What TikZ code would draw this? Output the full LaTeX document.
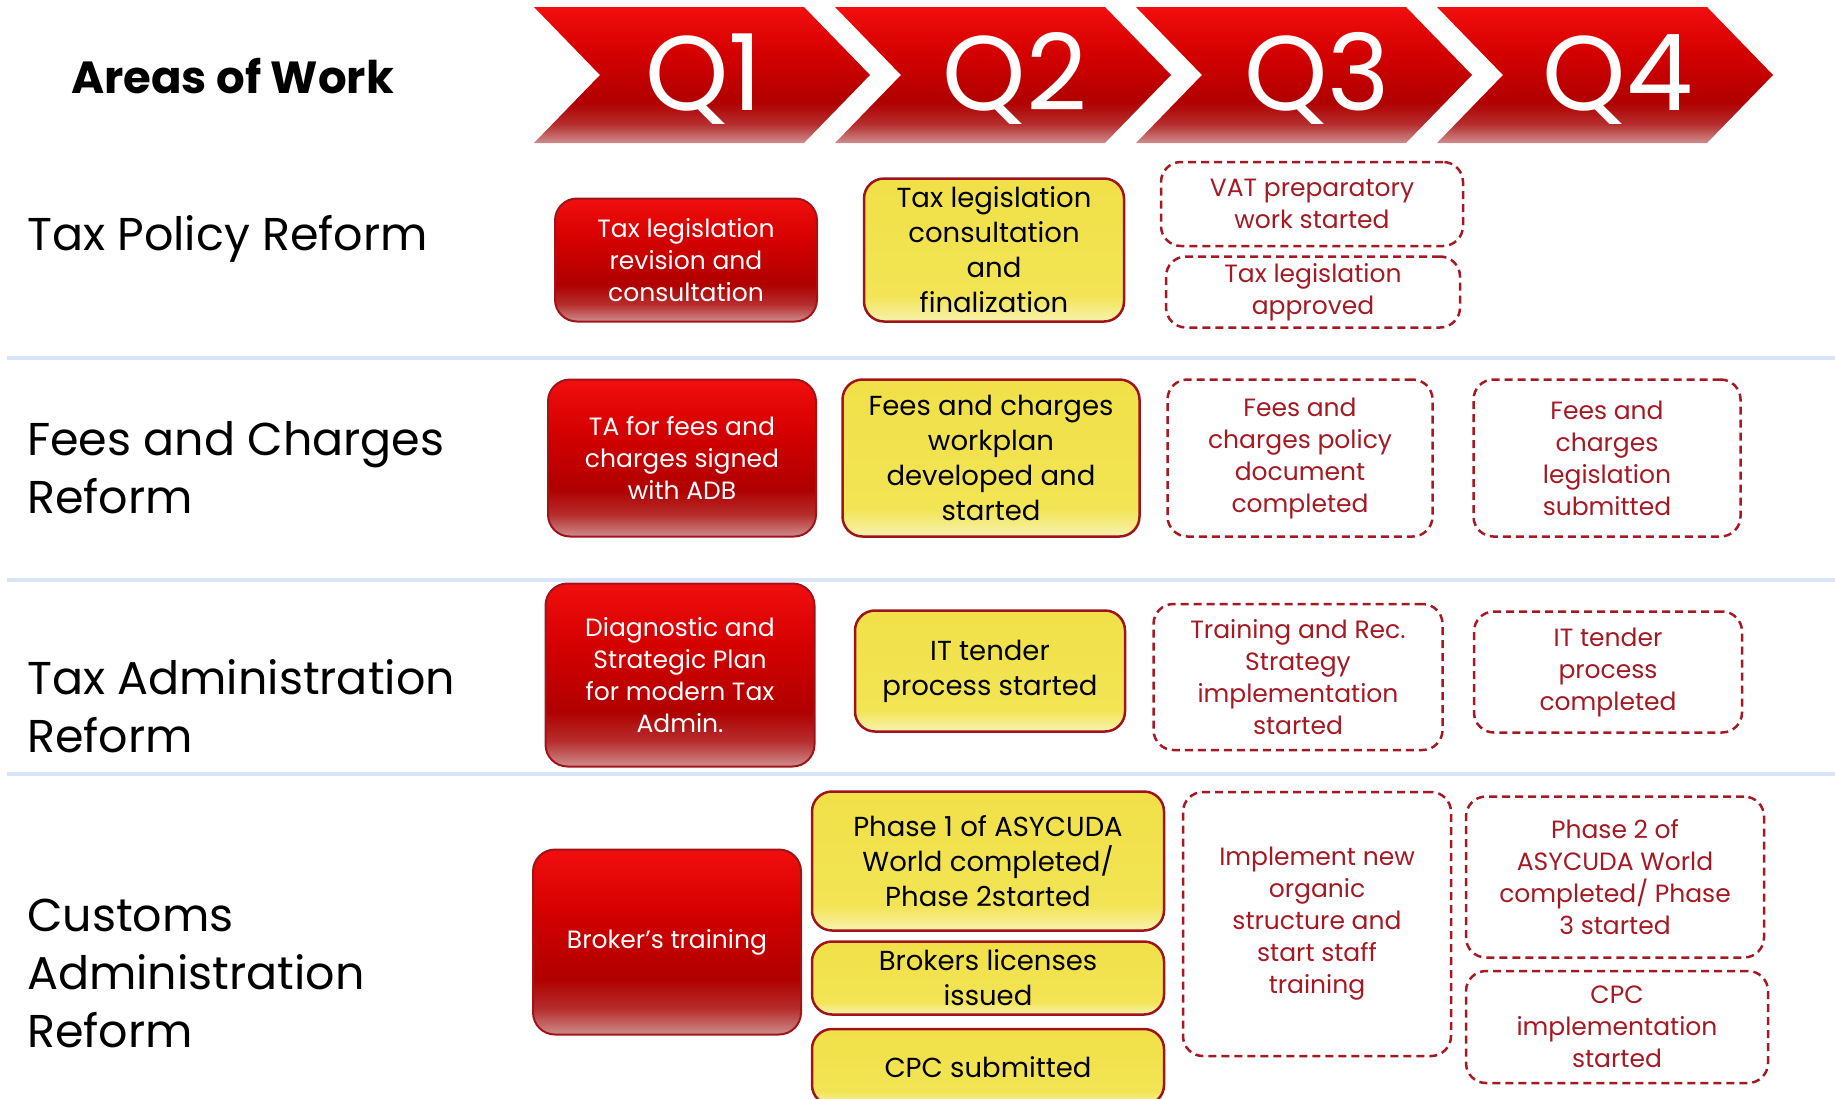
\documentclass[tikz,border=0pt]{standalone}
\usepackage{fontspec}
\setmainfont{Poppins}

\definecolor{rtop}{RGB}{242,14,14}
\definecolor{rmid}{RGB}{212,0,0}
\definecolor{rdark}{RGB}{176,0,0}
\definecolor{rlow}{RGB}{182,45,45}
\definecolor{rbot}{RGB}{206,140,140}
\definecolor{ytop}{RGB}{241,224,72}
\definecolor{ymid}{RGB}{242,228,84}
\definecolor{ybot}{RGB}{248,242,176}
\definecolor{boxline}{RGB}{160,20,25}
\definecolor{dashred}{RGB}{165,25,35}
\definecolor{sepblue}{RGB}{218,228,248}

\pgfdeclareverticalshading{redgloss}{100bp}{color(0bp)=(rbot); color(25bp)=(rbot);
	color(32bp)=(rlow); color(40bp)=(rdark); color(58bp)=(rmid); color(75bp)=(rtop); color(100bp)=(rtop)}
\pgfdeclareverticalshading{yelgloss}{100bp}{color(0bp)=(ybot); color(25bp)=(ybot);
	color(34bp)=(ymid); color(75bp)=(ytop); color(100bp)=(ytop)}

\newcommand\boxfont{\fontsize{25}{32}\selectfont}
\newcommand\yelfont{\fontsize{27.5}{35}\selectfont}
\newcommand\rowfont{\fontsize{46}{58}\selectfont}

\begin{document}
\begin{tikzpicture}[x=1pt,y=-1pt,
		wh/.style 2 args={minimum width=#1pt,minimum height=#2pt},
		redbox/.style={draw=boxline,line width=2pt,rounded corners=22pt,shading=redgloss,
			text=white,align=center,font=\boxfont,inner sep=0pt},
		yelbox/.style={draw=boxline,line width=2.5pt,rounded corners=20pt,shading=yelgloss,
			text=black,align=center,font=\yelfont,inner sep=0pt},
		planbox/.style={draw=dashred,line width=2.5pt,dash pattern=on 8pt off 5pt,rounded corners=20pt,
			text=dashred,align=center,font=\boxfont,inner sep=0pt},
		chevron/.style={shading=redgloss},
		qlabel/.style={text=white,font=\fontsize{106}{110}\selectfont,anchor=base,inner sep=0pt},
		rowlabel/.style={anchor=base west,align=left,font=\rowfont,inner sep=0pt},
		sepline/.style={draw=sepblue,line width=4pt}]
	\useasboundingbox (0,0) rectangle (1835,1098);
	\clip (0,0) rectangle (1835,1098);

	% quarters
	\node[anchor=base west,font=\fontsize{45}{50}\selectfont\bfseries,inner sep=0pt] (areas) at (71,93) {Areas of Work};
	\foreach \q/\cx [count=\i from 0] in {1/704,2/1015,3/1317,4/1618}{
		\shade[chevron] (534+301*\i,7) -- ++(270,0) -- ++(66,68) -- ++(-66,68) -- ++(-270,0) -- ++(66,-68) -- cycle;
		\node[qlabel] (q\q) at (\cx,110) {Q\q};
	}

	\foreach \y in {358,580,774}
		\draw[sepline] (7,\y) -- (1835,\y);

	% areas (base = last line)
	\node[rowlabel] (tpr) at (27,250) {Tax Policy Reform};
	\node[rowlabel] (fcr) at (27,513) {Fees and Charges\\Reform};
	\node[rowlabel] (tar) at (27,752) {Tax Administration\\Reform};
	\node[rowlabel] (car) at (27,1047) {Customs\\Administration\\Reform};

	% tax policy
	\node[redbox,wh={262}{123}] (tp1) at (686,260) {Tax legislation\\revision and\\consultation};
	\node[yelbox,wh={260}{143}] (tp2) at (994,250) {Tax legislation\\consultation\\and\\finalization};
	\node[planbox,wh={302}{84}] (tp3a) at (1312,204) {VAT preparatory\\work started};
	\node[planbox,wh={294}{71}] (tp3b) at (1313,292) {Tax legislation\\approved};

	% fees and charges
	\node[redbox,wh={268}{157}] (fc1) at (682,458) {TA for fees and\\charges signed\\with ADB};
	\node[yelbox,wh={297}{157}] (fc2) at (991,458) {Fees and charges\\workplan\\developed and\\started};
	\node[planbox,wh={265}{157}] (fc3) at (1300,458) {Fees and\\charges policy\\document\\completed};
	\node[planbox,wh={267}{157}] (fc4) at (1607,458) {Fees and\\charges\\legislation\\submitted};

	% tax administration
	\node[redbox,wh={269}{183}] (ta1) at (680,675) {Diagnostic and\\Strategic Plan\\for modern Tax\\Admin.};
	\node[yelbox,wh={270}{121}] (ta2) at (990,671) {IT tender\\process started};
	\node[planbox,wh={289}{146}] (ta3) at (1298,677) {Training and Rec.\\Strategy\\implementation\\started};
	\node[planbox,wh={268}{121}] (ta4) at (1608,672) {IT tender\\process\\completed};

	% customs administration
	\node[redbox,wh={268}{185}] (ca1) at (667,942) {Broker's training};
	\node[yelbox,wh={352}{139}] (ca2a) at (988,861) {Phase 1 of ASYCUDA\\World completed/\\Phase 2started};
	\node[yelbox,wh={352}{73}] (ca2b) at (988,978) {Brokers licenses\\issued};
	\node[yelbox,wh={352}{76}] (ca2c) at (988,1067) {CPC submitted};
	\node[planbox,wh={268}{264}] (ca3) at (1317,924) {Implement new\\organic\\structure and\\start staff\\training};
	\node[planbox,wh={298}{161}] (ca4a) at (1615,877) {Phase 2 of\\ASYCUDA World\\completed/ Phase\\3 started};
	\node[planbox,wh={302}{112}] (ca4b) at (1617,1027) {CPC\\implementation\\started};
\end{tikzpicture}
\end{document}
